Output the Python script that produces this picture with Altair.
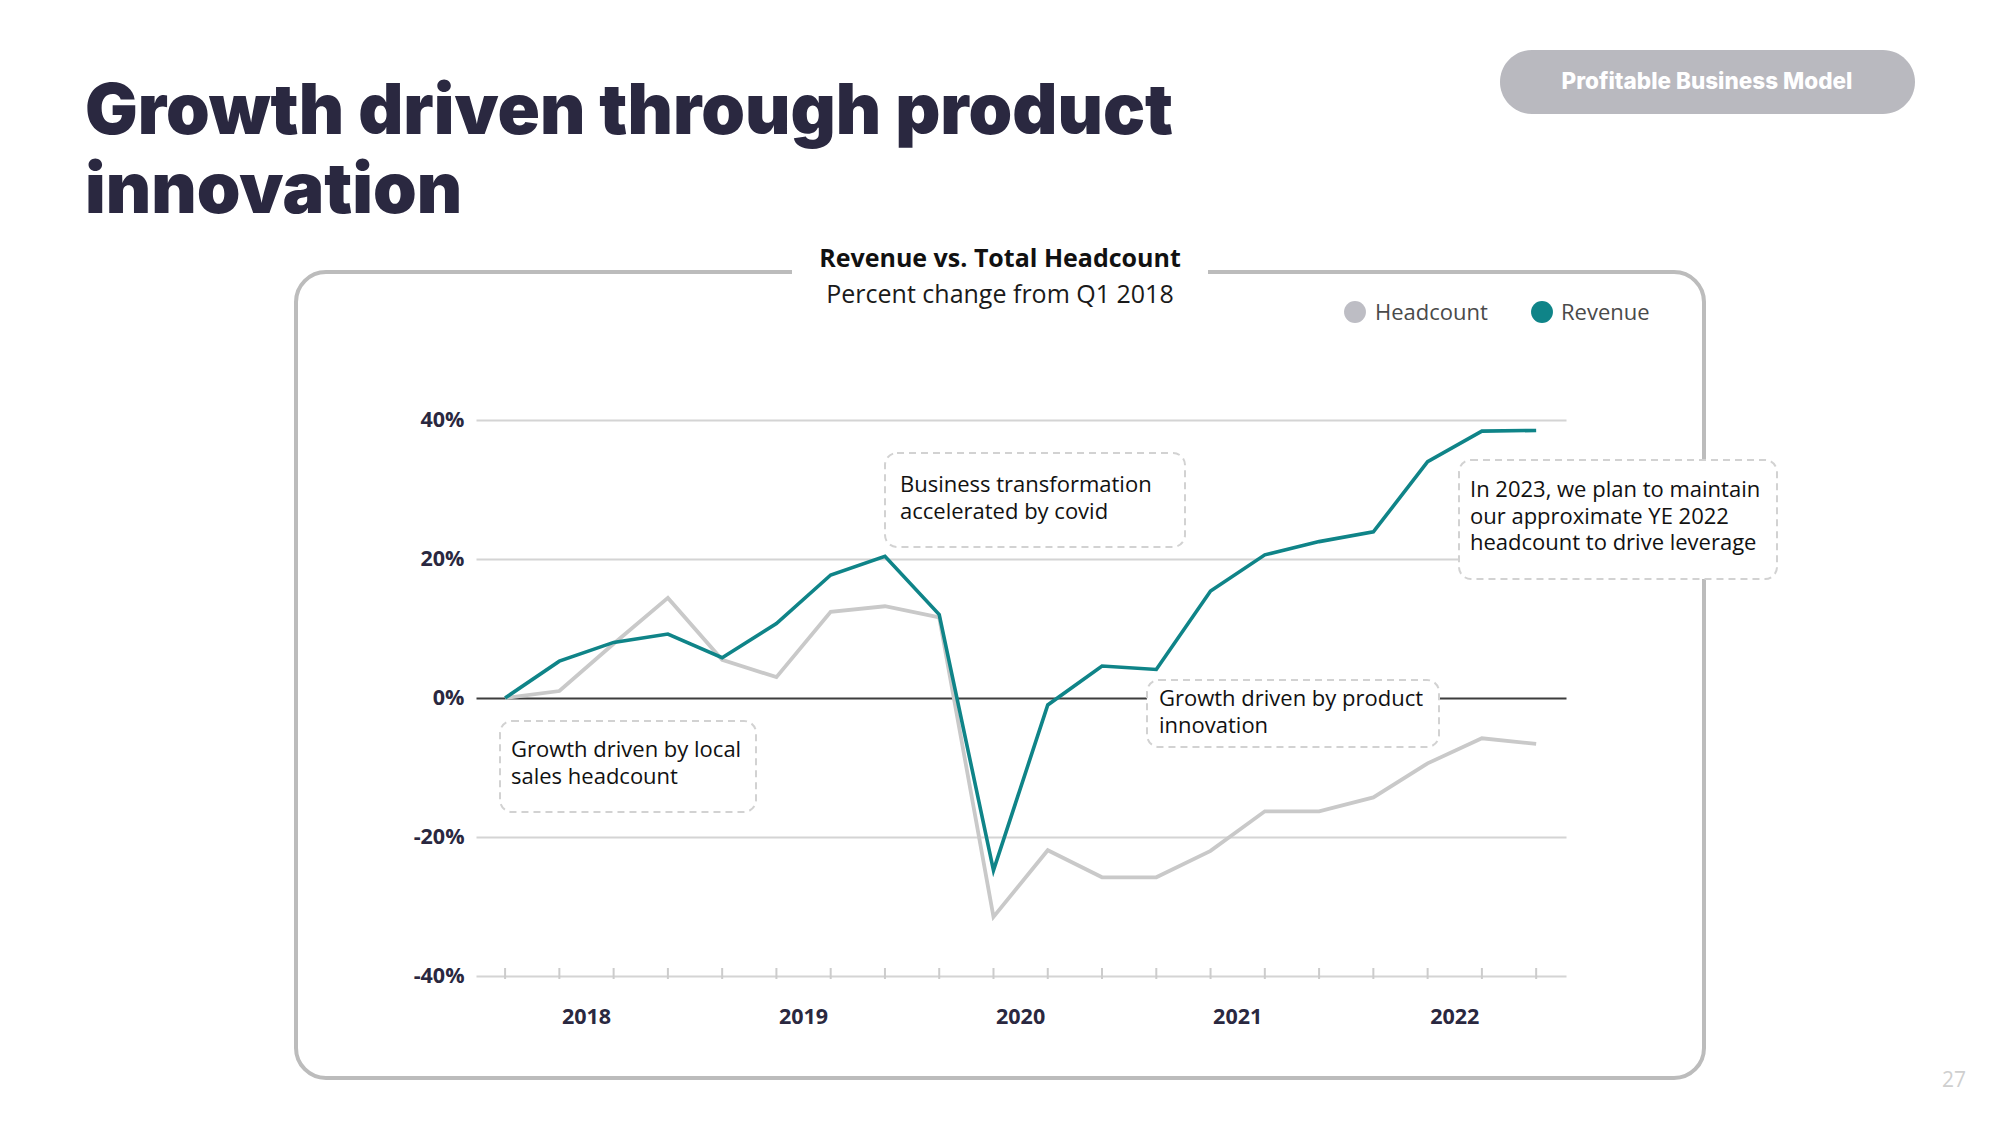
import altair as alt
import pandas as pd

# ---------------- data ----------------
quarters = ["Q1 2018", "Q2 2018", "Q3 2018", "Q4 2018",
            "Q1 2019", "Q2 2019", "Q3 2019", "Q4 2019",
            "Q1 2020", "Q2 2020", "Q3 2020", "Q4 2020",
            "Q1 2021", "Q2 2021", "Q3 2021", "Q4 2021",
            "Q1 2022", "Q2 2022", "Q3 2022", "Q4 2022"]
revenue = [0.0, 5.3, 8.0, 9.2, 5.8, 10.7, 17.7, 20.4, 12.0, -24.8,
           -1.0, 4.6, 4.1, 15.4, 20.6, 22.5, 23.9, 34.0, 38.4, 38.5]
headcount = [0.0, 1.0, 7.8, 14.4, 5.5, 3.0, 12.4, 13.2, 11.6, -31.5,
             -21.9, -25.8, -25.8, -22.0, -16.3, -16.3, -14.3, -9.4, -5.8, -6.6]
years = ["2018", "2019", "2020", "2021", "2022"]
y_ticks = [-40, -20, 0, 20, 40]
series_names = ["Headcount", "Revenue"]

df = pd.DataFrame({"idx": list(range(len(quarters))), "quarter": quarters,
                   "Revenue": revenue, "Headcount": headcount})
year_idx = [sum(i for i, q in enumerate(quarters) if q.endswith(y)) /
            sum(1 for q in quarters if q.endswith(y)) for y in years]
year_df = pd.DataFrame({"idx": year_idx, "year": years})
one = pd.DataFrame({"k": [0]})

# ---------------- layout ----------------
OX, OY = 476, 420
W, H = 1090, 556
def px(X): return X - OX
def py(Y): return Y - OY

TEAL = "#0f8488"
GRAY_LINE = "#c9c9c9"
NAVY = "#2a2840"
FONT = "Open Sans"

xscale = alt.Scale(domain=[-0.536, 19.55], nice=False, zero=False)
yscale = alt.Scale(domain=[-40, 40], nice=False)

def box(x1, x2, y1, y2, **kw):
    return alt.Chart(one).mark_rect(**kw).encode(
        x=alt.value(px(x1)), x2=alt.value(px(x2)),
        y=alt.value(py(y1)), y2=alt.value(py(y2)))

def label(txt, X, Y, **kw):
    return alt.Chart(one).mark_text(text=txt, **kw).encode(
        x=alt.value(px(X)), y=alt.value(py(Y)))

# outer frame with gap for the title
frame = box(296, 1704, 272, 1078, cornerRadius=30, fill="transparent",
            stroke="#bcbcbc", strokeWidth=4)
gap = box(792, 1208, 262, 284, fill="white")

title1 = label("Growth driven through product", 85, 134, font="Inter", fontSize=70,
               fontWeight=900, color=NAVY, align="left", baseline="alphabetic")
title2 = label("innovation", 85, 213, font="Inter", fontSize=70,
               fontWeight=900, color=NAVY, align="left", baseline="alphabetic")

pill = box(1500, 1915, 50, 114, cornerRadius=32, fill="#b9b9bf")
pill_t = label("Profitable Business Model", 1707, 82, font="Inter", fontSize=22.5,
               fontWeight=800, color="white", align="center", baseline="middle")

ctitle = label("Revenue vs. Total Headcount", 1000, 259, font=FONT, fontSize=25,
               fontWeight="bold", color="#111111", align="center", baseline="middle")
csub = label("Percent change from Q1 2018", 1000, 295, font=FONT, fontSize=25,
             color="#1a1a1a", align="center", baseline="middle")

leg_dot1 = alt.Chart(one).mark_point(filled=True, shape="circle", size=480,
                                     color="#bdbdc4", opacity=1).encode(
    x=alt.value(px(1355)), y=alt.value(py(312)))
leg_dot2 = alt.Chart(one).mark_point(filled=True, shape="circle", size=480,
                                     color=TEAL, opacity=1).encode(
    x=alt.value(px(1542)), y=alt.value(py(312)))
leg_t1 = label(series_names[0], 1375, 313, font=FONT, fontSize=22, color="#4a4a4a",
               align="left", baseline="middle")
leg_t2 = label(series_names[1], 1561, 313, font=FONT, fontSize=22, color="#4a4a4a",
               align="left", baseline="middle")

base = alt.Chart(df)
y_axis = alt.Axis(values=y_ticks, labelExpr="datum.value + '%'", title=None,
                  domain=False, ticks=False, grid=True, gridWidth=2,
                  gridColor={"condition": {"test": "datum.value === 0", "value": "#3d3d3d"},
                             "value": "#d4d4d4"},
                  labelFont=FONT, labelFontWeight="bold", labelFontSize=21.5,
                  labelColor=NAVY, labelPadding=12)
x_axis = alt.Axis(values=list(range(len(quarters))), labels=False, ticks=False,
                  domain=False, grid=False, title=None)

hc_line = base.mark_line(color=GRAY_LINE, strokeWidth=3.8, strokeJoin="miter").encode(
    x=alt.X("idx:Q", scale=xscale, axis=x_axis),
    y=alt.Y("Headcount:Q", scale=yscale, axis=y_axis))
rev_line = base.mark_line(color=TEAL, strokeWidth=3.6, strokeJoin="miter").encode(
    x=alt.X("idx:Q", scale=xscale),
    y=alt.Y("Revenue:Q", scale=yscale))

ticks = base.mark_rule(color="#cccccc", strokeWidth=2).encode(
    x=alt.X("idx:Q", scale=xscale), y=alt.value(H - 8), y2=alt.value(H + 3))

year_lbl = alt.Chart(year_df).mark_text(font=FONT, fontSize=21.5, fontWeight="bold",
                                        color=NAVY, baseline="middle").encode(
    x=alt.X("idx:Q", scale=xscale), y=alt.value(py(1018)), text="year:N")

ann_style = dict(cornerRadius=12, fill="white", stroke="#d2d2d2",
                 strokeWidth=2, strokeDash=[7, 5])
txt_style = dict(font=FONT, fontSize=22, color="#111111", align="left",
                 baseline="middle", lineHeight=26.5)

a1 = box(885, 1185, 453, 547, **ann_style)
a1t = label(["Business transformation", "accelerated by covid"], 900, 485, **txt_style)
a2 = box(1459, 1777, 460, 579, **ann_style)
a2t = label(["In 2023, we plan to maintain", "our approximate YE 2022",
             "headcount to drive leverage"], 1470, 490, **txt_style)
a3 = box(1147, 1439, 680, 747, **ann_style)
a3t = label(["Growth driven by product", "innovation"], 1159, 699, **txt_style)
a4 = box(500, 756, 721, 812, **ann_style)
a4t = label(["Growth driven by local", "sales headcount"], 511, 750, **txt_style)

pagenum = label("27", 1954, 1081, font=FONT, fontSize=21, color="#cfcfcf",
                align="center", baseline="middle")

chart = alt.layer(
    frame, gap, title1, title2, pill, pill_t, ctitle, csub,
    leg_dot1, leg_dot2, leg_t1, leg_t2,
    hc_line, rev_line, ticks, year_lbl,
    a1, a1t, a2, a2t, a3, a3t, a4, a4t, pagenum
).properties(
    width=W, height=H,
    padding={"left": OX, "top": OY, "right": 2000 - OX - W, "bottom": 1125 - OY - H},
    autosize=alt.AutoSizeParams(type="none"),
    background="white"
).configure_view(stroke=None)

chart.save("out.html", embed_options={"renderer": "svg", "actions": False})
